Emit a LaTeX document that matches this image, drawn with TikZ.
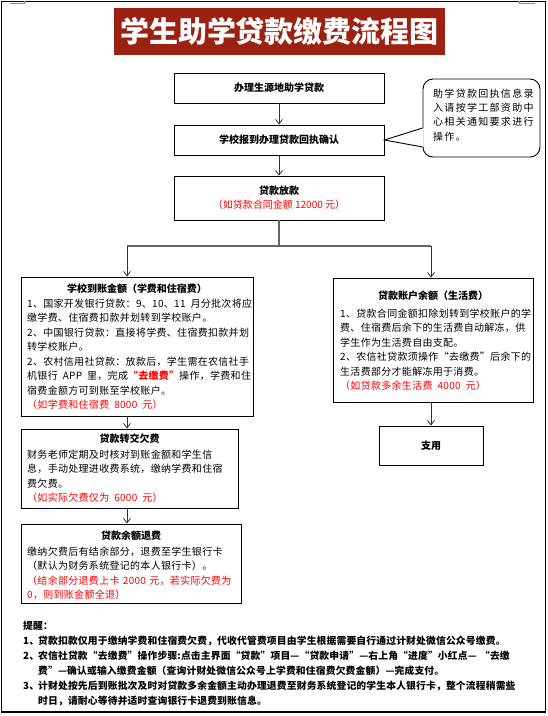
\documentclass[tikz,border=0pt]{standalone}
\usepackage{fontspec}
\setmainfont{Noto Sans CJK SC}
\usetikzlibrary{arrows.meta}
\definecolor{titlered}{HTML}{9B2111}
\definecolor{txtred}{HTML}{FF0000}
\begin{document}
\begin{tikzpicture}[x=1pt,y=-1pt,
  box/.style={draw=black, line width=0.9pt, inner sep=0pt},
  btitle/.style={font=\bfseries\fontsize{10}{12}\selectfont, inner sep=0pt, anchor=base},
  body/.style={font=\fontsize{10}{14.5}\selectfont\addfontfeature{LetterSpace=3}, inner sep=0pt, anchor=north west, align=left, text width=250pt},
  conn/.style={draw=black!80, line width=0.8pt},
  trunk/.style={draw=black!60, line width=1.3pt},
  arr/.style={conn, -{Straight Barb[length=4.5pt,width=7pt]}},
  cornermark/.style={draw=black!45, line width=0.8pt}
]
\useasboundingbox (0,0) rectangle (548,716);
% page frame and corner marks
\draw[line width=1.3pt] (1.5,1.2) rectangle (545.5,712);
\draw[cornermark] (10,3) -- (24,3) -- (24,1);
\draw[cornermark] (519,1) -- (519,3) -- (535,3);
% title
\node[fill=titlered, minimum width=331pt, minimum height=47pt, inner sep=0pt,
      text=white, font=\bfseries\fontsize{29}{29}\selectfont] (title) at (279.5,31.5) {学生助学贷款缴费流程图};
% main chain
\node[box, minimum width=210pt, minimum height=30pt, font=\bfseries\fontsize{10}{12}\selectfont] (b1) at (279,88) {办理生源地助学贷款};
\node[box, minimum width=210pt, minimum height=30pt, font=\bfseries\fontsize{10}{12}\selectfont] (b2) at (279,140) {学校报到办理贷款回执确认};
\node[box, minimum width=210pt, minimum height=44pt, align=center, font=\fontsize{10}{14}\selectfont] (b3) at (279,198) {\textbf{贷款放款}\\\textcolor{txtred}{（如贷款合同金额 12000 元）}};
\draw[arr] (b1) -- (b2);
\draw[arr] (b2) -- (b3);
% callout
\node[draw=black, line width=0.9pt, rounded corners=10pt, minimum width=117pt, minimum height=78pt, inner sep=0pt] (call) at (481.5,118) {};
\node[body, text width=110pt, font=\fontsize{10}{14.4}\selectfont\addfontfeature{LetterSpace=13}] (callt) at (433,86.8) {\rule{0pt}{10pt}助学贷款回执信息录\\入请按学工部资助中\\心相关通知要求进行\\操作。};
\coordinate (pa) at (call.west |- 0,128);
\coordinate (pb) at (call.west |- 0,147);
\fill[white] (b2.east) -- ([xshift=1pt]pa) -- ([xshift=1pt]pb) -- cycle;
\draw[line width=0.9pt] (pa) -- (b2.east) -- (pb);
% branch
\coordinate (brL) at (127,246);
\coordinate (brR) at (431,246);
\node[box, minimum width=232pt, minimum height=139pt] (lb) at (137,346.5) {};
\node[box, minimum width=200pt, minimum height=124pt] (rb) at (433,340) {};
\node[box, minimum width=104pt, minimum height=39pt, font=\bfseries\fontsize{10}{12}\selectfont] (zy) at (431,445.5) {支用};
\node[box, minimum width=217pt, minimum height=79pt] (zb) at (129.5,468.5) {};
\node[box, minimum width=220pt, minimum height=79pt] (tb) at (131,563.5) {};
\draw[trunk] (b3.south) -- (b3.south |- brL);
\draw[trunk] (brL) -- (brR);
\draw[arr] (brL) -- (brL |- lb.north);
\draw[arr] (brR) -- (brR |- rb.north);
\draw[arr] (brL |- lb.south) -- (brL |- zb.north);
\draw[arr] (brL |- zb.south) -- (brL |- tb.north);
\draw[arr] (brR |- rb.south) -- (brR |- zy.north);
% left box text
\node[btitle] (lbt) at (137,292.8) {学校到账金额（学费和住宿费）};
\node[body] (lbb) at (27,296.8) {\rule{0pt}{10pt}1、国家开发银行贷款：9、10、11\ \,月分批次将应\\
缴学费、住宿费扣款并划转到学校账户。\\
2、中国银行贷款：直接将学费、住宿费扣款并划\\
转学校账户。\\
2、农村信用社贷款：放款后，学生需在农信社手\\
机银行\ \,APP\ \,里，完成\textcolor{txtred}{\bfseries“去缴费”}操作，学费和住\\
宿费金额方可到账至学校账户。\\
\textcolor{txtred}{（如学费和住宿费\ \,8000\ \,元）}};
% right box text
\node[btitle] (rbt) at (433,299.8) {贷款账户余额（生活费）};
\node[body] (rbb) at (340,306.8) {\rule{0pt}{10pt}1、贷款合同金额扣除划转到学校账户的学\\
费、住宿费后余下的生活费自动解冻，供\\
学生作为生活费自由支配。\\
2、农信社贷款须操作“去缴费”后余下的\\
生活费部分才能解冻用于消费。\\
\textcolor{txtred}{（如贷款多余生活费\ \,4000\ \,元）}};
% transfer box text
\node[btitle] (zbt) at (129.5,442.8) {贷款转交欠费};
\node[body] (zbb) at (27,447.8) {\rule{0pt}{10pt}财务老师定期及时核对到账金额和学生信\\
息，手动处理进收费系统，缴纳学费和住宿\\
费欠费。\\
\textcolor{txtred}{（如实际欠费仅为\ \,6000\ \,元）}};
% refund box text
\node[btitle] (tbt) at (131,539.8) {贷款余额退费};
\node[body] (tbb) at (27,544.8) {\rule{0pt}{10pt}缴纳欠费后有结余部分，退费至学生银行卡\\
（默认为财务系统登记的本人银行卡）。\\
\textcolor{txtred}{（结余部分退费上卡 2000 元，若实际欠费为}\\
\textcolor{txtred}{0，则到账金额全退）}};
% notes
\node[body, text width=520pt, font=\bfseries\fontsize{9.8}{15.1}\selectfont\addfontfeature{LetterSpace=1.5}] (notes) at (23,618.8) {\rule{0pt}{10pt}提醒：\\
\makebox[15pt][l]{1、}贷款扣款仅用于缴纳学费和住宿费欠费，代收代管费项目由学生根据需要自行通过计财处微信公众号缴费。\\
\makebox[15pt][l]{2、}农信社贷款“去缴费”操作步骤:点击主界面“贷款”项目—“贷款申请”—右上角“进度”小红点— “去缴\\
\hspace*{15pt}费”—确认或输入缴费金额（查询计财处微信公众号上学费和住宿费欠费金额）—完成支付。\\
\makebox[15pt][l]{3、}计财处按先后到账批次及时对贷款多余金额主动办理退费至财务系统登记的学生本人银行卡，整个流程稍需些\\
\hspace*{15pt}时日，请耐心等待并适时查询银行卡退费到账信息。};
\end{tikzpicture}
\end{document}
